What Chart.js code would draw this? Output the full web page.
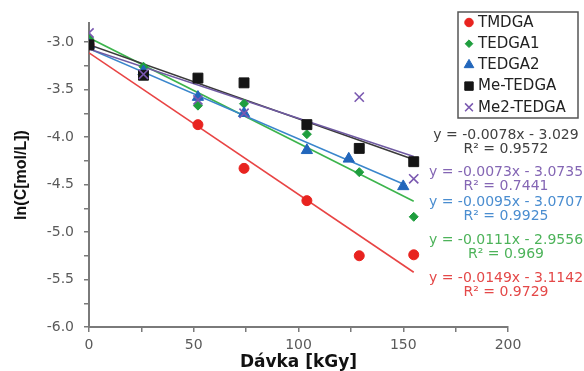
<!DOCTYPE html>
<html>
<head>
<meta charset="utf-8">
<script src="https://cdn.jsdelivr.net/npm/chart.js@4.4.0/dist/chart.umd.min.js"></script>
<style>
  html, body { margin: 0; padding: 0; background: #fff; }
  #wrap { width: 584px; height: 371px; }
</style>
</head>
<body>
<div id="wrap"><canvas id="chart" width="584" height="371"></canvas></div>
<script>
// values (dose in kGy, ln of concentration)
const seriesNames = ['TMDGA', 'TEDGA1', 'TEDGA2', 'Me-TEDGA', 'Me2-TEDGA'];

const tmdgaDose = [0, 52, 74, 104, 129, 155];
const tmdgaLnC = [-3.03, -3.87, -4.33, -4.67, -5.25, -5.24];

const tedga1Dose = [0, 26, 52, 74, 104, 129, 155];
const tedga1LnC = [-2.96, -3.26, -3.67, -3.65, -3.97, -4.37, -4.84];

const tedga2Dose = [0, 26, 52, 74, 104, 124, 150];
const tedga2LnC = [-3.03, -3.31, -3.58, -3.75, -4.14, -4.23, -4.52];

const meDose = [0, 26, 52, 74, 104, 129, 155];
const meLnC = [-3.03, -3.35, -3.38, -3.43, -3.87, -4.12, -4.26];

const me2Dose = [0, 26, 52, 74, 129, 155];
const me2LnC = [-2.905, -3.34, -3.61, -3.75, -3.58, -4.44];

// trendline equations as printed on the chart
const slopes = [-0.0149, -0.0111, -0.0095, -0.0078, -0.0073];
const intercepts = [-3.1142, -2.9556, -3.0707, -3.029, -3.0735];
const r2Labels = ['0.9729', '0.969', '0.9925', '0.9572', '0.7441'];

const xTickLabels = [0, 50, 100, 150, 200];
const yTickLabels = [-6.0, -5.5, -5.0, -4.5, -4.0, -3.5, -3.0];

const doses = [tmdgaDose, tedga1Dose, tedga2Dose, meDose, me2Dose];
const lnCs = [tmdgaLnC, tedga1LnC, tedga2LnC, meLnC, me2LnC];

const markerColors = ['#e8231f', '#1f9e3e', '#2266bb', '#151515', '#7a58b0'];
const lineColors = ['#e84444', '#3cb44c', '#3a86cc', '#3a3a3a', '#6f5aa2'];
const eqColors = ['#e44848', '#4db35a', '#4a8dd0', '#404040', '#8466b4'];
const pointStyles = ['circle', 'rectRot', 'triangle', 'rect', 'crossRot'];
const pointSizes = [5, 4.5, 6.5, 7, 6.5];
const eqRowsY = [278, 240, 202, 135, 172];

const datasets = [];
seriesNames.forEach((name, i) => {
    datasets.push({
        label: name,
        data: doses[i].map((d, j) => ({ x: d, y: lnCs[i][j] })),
        showLine: false,
        pointStyle: pointStyles[i],
        pointRadius: pointSizes[i],
        pointHoverRadius: pointSizes[i],
        backgroundColor: markerColors[i],
        borderColor: markerColors[i],
        pointBorderWidth: pointStyles[i] === 'crossRot' ? 1.6 : 1,
        order: 5 - i,
    });
});
seriesNames.forEach((name, i) => {
    const xEnd = Math.max(...doses[i]);
    datasets.push({
        label: name + ' trend',
        data: [
            { x: 0, y: intercepts[i] },
            { x: xEnd, y: slopes[i] * xEnd + intercepts[i] },
        ],
        showLine: true,
        pointRadius: 0,
        borderColor: lineColors[i],
        borderWidth: 1.6,
        order: 20 - i,
    });
});

const legendBox = {
    id: 'legendBox',
    afterDraw(chart) {
        const ctx = chart.ctx;
        ctx.save();
        ctx.fillStyle = '#fff';
        ctx.fillRect(458, 12, 120, 106);
        ctx.strokeStyle = '#555';
        ctx.lineWidth = 1.5;
        ctx.strokeRect(458, 12, 120, 106);
        ctx.font = '15px "DejaVu Sans"';
        ctx.textBaseline = 'middle';
        ctx.textAlign = 'left';
        seriesNames.forEach((name, i) => {
            const y = 22.5 + i * 21.2;
            ctx.fillStyle = markerColors[i];
            ctx.strokeStyle = markerColors[i];
            ctx.lineWidth = pointStyles[i] === 'crossRot' ? 1.5 : 1;
            Chart.helpers.drawPoint(ctx, {
                pointStyle: pointStyles[i],
                radius: pointSizes[i] * 0.85,
                rotation: 0,
                borderWidth: ctx.lineWidth,
            }, 469, y);
            ctx.fillStyle = '#222';
            ctx.fillText(name, 478, y + 0.5);
        });
        ctx.restore();
    },
};

const equations = {
    id: 'equations',
    afterDraw(chart) {
        const ctx = chart.ctx;
        ctx.save();
        ctx.font = '14px "DejaVu Sans"';
        ctx.textAlign = 'center';
        ctx.textBaseline = 'middle';
        seriesNames.forEach((name, i) => {
            ctx.fillStyle = eqColors[i];
            const eq = 'y = ' + slopes[i] + 'x - ' + Math.abs(intercepts[i]);
            ctx.fillText(eq, 506, eqRowsY[i]);
            ctx.fillText('R\u00b2 = ' + r2Labels[i], 506, eqRowsY[i] + 14.5);
        });
        ctx.restore();
    },
};

new Chart(document.getElementById('chart').getContext('2d'), {
    type: 'scatter',
    data: { datasets: datasets },
    options: {
        responsive: false,
        animation: false,
        devicePixelRatio: 1,
        layout: { padding: { left: 0, right: 76, top: 23, bottom: 0 } },
        plugins: {
            legend: { display: false },
            tooltip: { enabled: false },
        },
        scales: {
            x: {
                type: 'linear',
                min: 0,
                max: 200,
                afterFit: (scale) => { scale.height = 44; },
                ticks: {
                    stepSize: 25,
                    padding: 5,
                    color: '#5a5a5a',
                    font: { family: 'DejaVu Sans', size: 14 },
                    callback: (v) => (xTickLabels.includes(v) ? String(v) : ''),
                    maxRotation: 0,
                    autoSkip: false,
                },
                grid: { drawOnChartArea: false, tickLength: 5, color: '#7a7a7a', lineWidth: 1.5 },
                border: { color: '#7a7a7a', width: 2 },
                title: {
                    display: true,
                    text: 'Dávka [kGy]',
                    color: '#111',
                    font: { family: 'DejaVu Sans', size: 17, weight: 'bold', lineHeight: 1 },
                    padding: { top: 0, bottom: 0 },
                },
            },
            y: {
                type: 'linear',
                min: -6,
                max: -2.8,
                afterFit: (scale) => { scale.width = 89; },
                ticks: {
                    stepSize: 0.25,
                    includeBounds: false,
                    padding: 10,
                    color: '#5a5a5a',
                    font: { family: 'DejaVu Sans', size: 14 },
                    callback: (v) => {
                        const hit = yTickLabels.find((t) => Math.abs(t - v) < 1e-6);
                        return hit === undefined ? '' : hit.toFixed(1);
                    },
                    autoSkip: false,
                },
                grid: { drawOnChartArea: false, tickLength: 5, color: '#7a7a7a', lineWidth: 1.5 },
                border: { color: '#7a7a7a', width: 2 },
                title: {
                    display: true,
                    text: 'ln(C[mol/L])',
                    color: '#111',
                    font: { family: 'Liberation Sans', size: 16, weight: 'bold', lineHeight: 1.2 },
                    padding: { top: 12, bottom: 0 },
                },
            },
        },
    },
    plugins: [legendBox, equations],
});
</script>
</body>
</html>
